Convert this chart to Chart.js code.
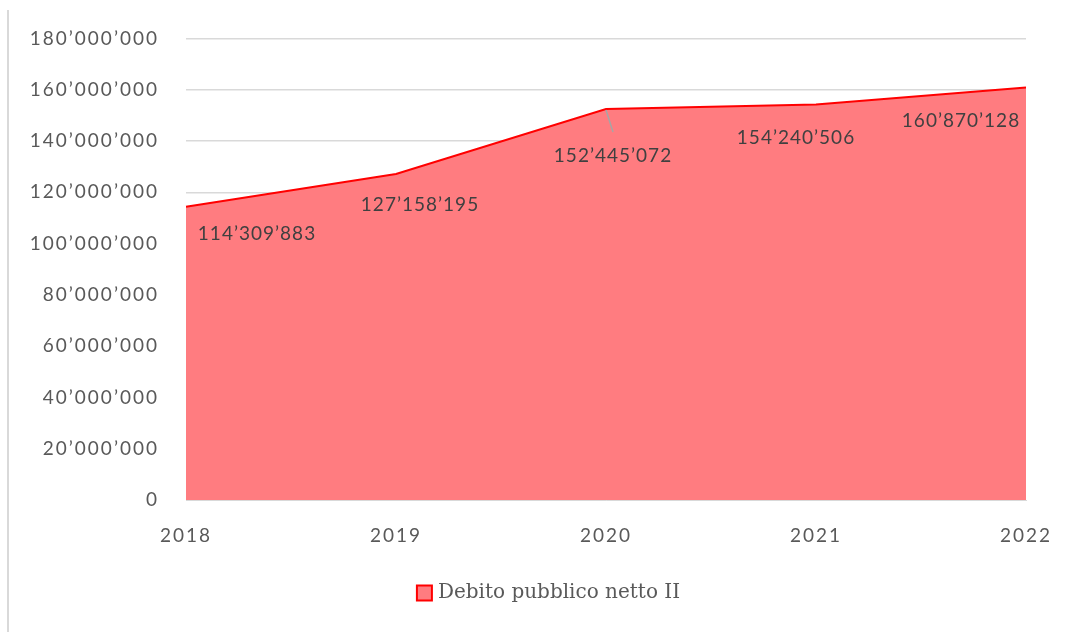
<!DOCTYPE html>
<html>
<head>
<meta charset="utf-8">
<script src="https://cdn.jsdelivr.net/npm/chart.js"></script>
<style>
  html, body { margin: 0; padding: 0; background: #fff; }
  #wrap { position: absolute; left: 0; top: 0; width: 1067px; height: 632px; }
  #edge { position: absolute; left: 7px; top: 10px; width: 2px; height: 622px; background: #d9d9d9; }
</style>
</head>
<body>
<div id="wrap"><canvas id="myChart"></canvas></div>
<div id="edge"></div>
<script>
var anni = ["2018", "2019", "2020", "2021", "2022"];
var debito = [114309883, 127158195, 152445072, 154240506, 160870128];
var nomeSerie = "Debito pubblico netto II";

// spostamento delle etichette rispetto al punto (px)
var labelOffsets = [[71, 27], [24, 31], [7, 47], [-20, 33], [-65, 33]];

function formatApo(v) {
  return String(Math.round(v)).replace(/\B(?=(\d{3})+(?!\d))/g, "\u2019");
}

// spaziatura del testo degli assi
var spaziatura = {
  id: "spaziatura",
  beforeDraw: function(chart) {
    chart.ctx.letterSpacing = "2px";
  }
};

// etichette dei valori + legenda
var etichette = {
  id: "etichette",
  afterDatasetsDraw: function(chart) {
    var ctx = chart.ctx;
    var meta = chart.getDatasetMeta(0);
    ctx.save();
    ctx.letterSpacing = "1px";
    ctx.font = "19px Lato";
    ctx.fillStyle = "#404040";
    ctx.textAlign = "center";
    ctx.textBaseline = "middle";
    meta.data.forEach(function(pt, i) {
      var x = pt.x + labelOffsets[i][0];
      var y = pt.y + labelOffsets[i][1];
      if (i == 2) {
        ctx.strokeStyle = "#a6a6a6";
        ctx.lineWidth = 1.5;
        ctx.beginPath();
        ctx.moveTo(pt.x, pt.y + 1);
        ctx.lineTo(pt.x + 7, pt.y + 23);
        ctx.stroke();
      }
      ctx.fillText(formatApo(debito[i]), x, y);
    });
    ctx.restore();
  },
  afterDraw: function(chart) {
    var ctx = chart.ctx;
    ctx.save();
    ctx.letterSpacing = "0px";
    ctx.font = "20px 'DejaVu Serif'";
    var w = ctx.measureText(nomeSerie).width;
    var box = 15, gap = 6;
    var total = box + gap + w;
    var x0 = chart.width / 2 - total / 2 + 15;
    var yc = 593;
    ctx.fillStyle = "#ff7c80";
    ctx.strokeStyle = "#ff0000";
    ctx.lineWidth = 2;
    ctx.fillRect(x0, yc - box / 2, box, box);
    ctx.strokeRect(x0, yc - box / 2, box, box);
    ctx.fillStyle = "#595959";
    ctx.textAlign = "left";
    ctx.textBaseline = "middle";
    ctx.fillText(nomeSerie, x0 + box + gap, yc);
    ctx.restore();
  }
};

new Chart("myChart", {
  type: "line",
  data: {
    labels: anni,
    datasets: [{
      label: nomeSerie,
      data: debito,
      fill: true,
      backgroundColor: "#ff7c80",
      borderColor: "#ff0000",
      borderWidth: 2,
      pointRadius: 0,
      tension: 0
    }]
  },
  plugins: [spaziatura, etichette],
  options: {
    responsive: true,
    maintainAspectRatio: false,
    animation: false,
    layout: { padding: { left: 20, right: 41, top: 33, bottom: 62 } },
    plugins: {
      title: { display: false },
      tooltip: { enabled: false },
      legend: { display: false }
    },
    scales: {
      x: {
        offset: false,
        grid: { display: false },
        border: { display: true, color: "#d9d9d9", width: 1 },
        ticks: {
          color: "#595959",
          font: { family: "Lato", size: 19 },
          padding: 16,
          maxRotation: 0
        },
        afterFit: function(scale) { scale.height = 70; }
      },
      y: {
        min: 0,
        max: 180000000,
        grid: { color: "#d9d9d9", lineWidth: 1.5, drawTicks: false },
        border: { display: false },
        ticks: {
          stepSize: 20000000,
          color: "#595959",
          font: { family: "Lato", size: 19 },
          padding: 27,
          callback: function(v) { return formatApo(v); }
        },
        afterFit: function(scale) { scale.width = 166; }
      }
    }
  }
});
</script>
</body>
</html>
